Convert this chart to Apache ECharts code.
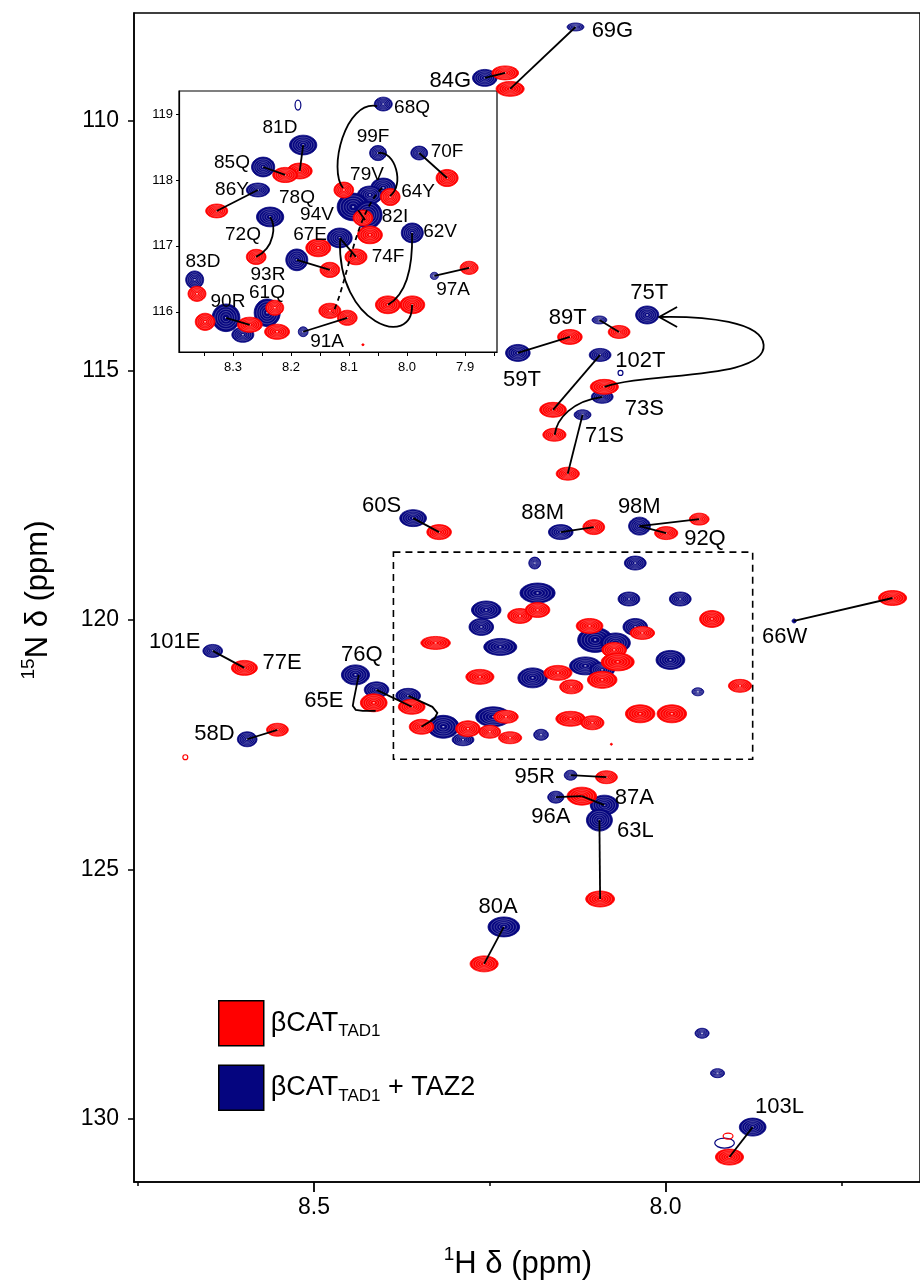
<!DOCTYPE html>
<html>
<head>
<meta charset="utf-8">
<script src="https://cdn.jsdelivr.net/npm/echarts@6/dist/echarts.min.js"></script>
<style>
  html, body { margin: 0; padding: 0; background: #fff; }
  #chart { width: 920px; height: 1285px; }
</style>
</head>
<body>
<div id="chart"></div>
<script>
// 1H-15N HSQC overlay: free βCAT TAD1 (red) and βCAT TAD1 bound to TAZ2 (blue)

// Cross peaks: [assignment, 1H ppm, 15N ppm, 1H linewidth ppm, 15N linewidth ppm]
const freeMain = [
  ['69G', 8.221, 109.36, 0.040, 0.30],
  ['84G', 8.228, 109.04, 0.038, 0.28],
  ['89T', 8.066, 114.23, 0.031, 0.26],
  ['59T', 8.136, 114.33, 0.035, 0.30],
  ['102T', 8.160, 115.79, 0.038, 0.30],
  ['73S', 8.087, 115.33, 0.040, 0.30],
  ['71S', 8.139, 117.07, 0.033, 0.26],
  ['', 8.158, 116.29, 0.033, 0.26],
  ['88M', 8.102, 118.14, 0.031, 0.30],
  ['98M', 7.952, 117.98, 0.028, 0.24],
  ['92Q', 7.999, 118.26, 0.033, 0.26],
  ['60S', 8.322, 118.24, 0.035, 0.30],
  ['77E', 8.599, 120.96, 0.037, 0.30],
  ['58D', 8.552, 122.20, 0.031, 0.26],
  ['65E', 8.415, 121.66, 0.038, 0.36],
  ['66W', 7.677, 119.56, 0.040, 0.30],
  ['95R', 8.084, 123.15, 0.031, 0.26],
  ['87A', 8.119, 123.53, 0.042, 0.36],
  ['63L', 8.093, 125.59, 0.041, 0.32],
  ['80A', 8.258, 126.89, 0.040, 0.32],
  ['103L', 7.909, 130.76, 0.040, 0.32],
  ['76Q', 8.361, 121.74, 0.038, 0.30],
  ['', 8.347, 122.14, 0.035, 0.30],
  ['', 8.207, 119.92, 0.035, 0.30],
  ['', 8.182, 119.80, 0.035, 0.30],
  ['', 7.934, 119.98, 0.035, 0.34],
  ['', 8.108, 120.12, 0.038, 0.30],
  ['', 8.327, 120.46, 0.042, 0.26],
  ['', 8.033, 120.26, 0.035, 0.26],
  ['', 8.073, 120.60, 0.035, 0.30],
  ['', 8.068, 120.84, 0.047, 0.36],
  ['', 8.153, 121.06, 0.040, 0.30],
  ['', 8.090, 121.20, 0.042, 0.34],
  ['', 8.134, 121.34, 0.033, 0.28],
  ['', 8.264, 121.14, 0.040, 0.30],
  ['', 7.894, 121.32, 0.033, 0.26],
  ['', 8.281, 122.18, 0.035, 0.32],
  ['', 8.227, 121.94, 0.035, 0.26],
  ['', 8.250, 122.24, 0.031, 0.26],
  ['', 8.221, 122.36, 0.033, 0.24],
  ['', 8.135, 121.98, 0.042, 0.30],
  ['', 8.104, 122.06, 0.033, 0.28],
  ['', 8.036, 121.88, 0.042, 0.36],
  ['', 7.991, 121.88, 0.042, 0.36],
  ['', 8.077, 122.49, 0.003, 0.04]
];
const freeMainWeak = [
  ['', 8.683, 122.75, 0.007, 0.10],
  ['', 7.911, 130.34, 0.014, 0.12]
];
const boundMain = [
  ['69G', 8.128, 108.12, 0.024, 0.16],
  ['84G', 8.257, 109.14, 0.035, 0.34],
  ['75T', 8.026, 113.89, 0.033, 0.36],
  ['89T', 8.094, 113.99, 0.021, 0.16],
  ['59T', 8.210, 114.65, 0.035, 0.34],
  ['102T', 8.093, 114.69, 0.031, 0.26],
  ['73S', 8.090, 115.53, 0.031, 0.26],
  ['71S', 8.118, 115.89, 0.024, 0.20],
  ['88M', 8.149, 118.24, 0.035, 0.30],
  ['98M', 8.037, 118.12, 0.031, 0.36],
  ['60S', 8.359, 117.96, 0.038, 0.34],
  ['101E', 8.644, 120.62, 0.028, 0.26],
  ['58D', 8.595, 122.39, 0.028, 0.30],
  ['', 8.441, 121.10, 0.040, 0.40],
  ['76Q', 8.411, 121.40, 0.035, 0.32],
  ['66W', 7.817, 120.02, 0.006, 0.08],
  ['95R', 8.135, 123.11, 0.018, 0.20],
  ['96A', 8.156, 123.55, 0.023, 0.24],
  ['87A', 8.087, 123.71, 0.040, 0.40],
  ['63L', 8.094, 124.01, 0.037, 0.44],
  ['80A', 8.230, 126.15, 0.045, 0.40],
  ['103L', 7.876, 130.16, 0.038, 0.36],
  ['', 7.948, 128.28, 0.020, 0.20],
  ['', 7.926, 129.08, 0.020, 0.18],
  ['', 8.186, 118.86, 0.017, 0.24],
  ['', 8.043, 118.86, 0.031, 0.28],
  ['', 8.182, 119.46, 0.050, 0.40],
  ['', 8.052, 119.58, 0.031, 0.28],
  ['', 7.979, 119.58, 0.031, 0.28],
  ['', 8.255, 119.80, 0.042, 0.36],
  ['', 8.262, 120.14, 0.035, 0.34],
  ['', 8.235, 120.54, 0.047, 0.34],
  ['', 8.043, 120.14, 0.035, 0.34],
  ['', 8.100, 120.40, 0.050, 0.50],
  ['', 8.071, 120.46, 0.042, 0.40],
  ['', 8.114, 120.92, 0.045, 0.36],
  ['', 8.090, 121.00, 0.035, 0.30],
  ['', 7.993, 120.80, 0.041, 0.38],
  ['', 8.189, 121.16, 0.042, 0.40],
  ['', 7.954, 121.44, 0.017, 0.16],
  ['', 8.366, 121.52, 0.035, 0.30],
  ['', 8.316, 122.14, 0.045, 0.46],
  ['', 8.288, 122.40, 0.031, 0.24],
  ['', 8.245, 121.94, 0.050, 0.40],
  ['', 8.177, 122.30, 0.021, 0.22]
];
const boundMainWeak = [
  ['', 8.064, 115.05, 0.007, 0.10],
  ['', 7.916, 130.48, 0.028, 0.20]
];

// Expanded region (inset)
const freeInset = [
  ['81D', 8.185, 118.136, 0.043, 0.24],
  ['85Q', 8.210, 118.076, 0.043, 0.23],
  ['86Y', 8.328, 117.530, 0.038, 0.21],
  ['72Q', 8.260, 116.833, 0.034, 0.23],
  ['67E', 8.153, 116.970, 0.043, 0.27],
  ['93R', 8.133, 116.636, 0.034, 0.23],
  ['83D', 8.362, 116.273, 0.031, 0.23],
  ['', 8.348, 115.848, 0.034, 0.26],
  ['90R', 8.271, 115.803, 0.043, 0.23],
  ['', 8.228, 116.061, 0.031, 0.23],
  ['', 8.224, 115.697, 0.043, 0.23],
  ['', 8.133, 116.015, 0.038, 0.23],
  ['91A', 8.103, 115.909, 0.034, 0.23],
  ['68Q', 8.109, 117.848, 0.034, 0.24],
  ['64Y', 8.029, 117.742, 0.034, 0.26],
  ['70F', 7.931, 118.030, 0.038, 0.26],
  ['82I', 8.076, 117.424, 0.034, 0.24],
  ['', 8.064, 117.167, 0.043, 0.27],
  ['74F', 8.088, 116.833, 0.038, 0.24],
  ['', 8.033, 116.106, 0.043, 0.27],
  ['', 7.991, 116.106, 0.043, 0.27],
  ['97A', 7.893, 116.667, 0.031, 0.20],
  ['', 8.076, 115.500, 0.004, 0.03]
];
const boundInset = [
  ['81D', 8.179, 118.530, 0.047, 0.30],
  ['85Q', 8.248, 118.197, 0.040, 0.30],
  ['86Y', 8.257, 117.848, 0.040, 0.21],
  ['78Q', 8.236, 117.439, 0.047, 0.30],
  ['93R', 8.190, 116.788, 0.038, 0.33],
  ['83D', 8.366, 116.485, 0.031, 0.27],
  ['90R', 8.312, 115.909, 0.048, 0.42],
  ['', 8.283, 115.652, 0.038, 0.23],
  ['61Q', 8.241, 115.985, 0.045, 0.42],
  ['91A', 8.179, 115.697, 0.017, 0.15],
  ['68Q', 8.041, 119.152, 0.031, 0.21],
  ['99F', 8.050, 118.409, 0.029, 0.23],
  ['70F', 7.979, 118.409, 0.029, 0.21],
  ['', 8.041, 117.879, 0.043, 0.30],
  ['', 8.064, 117.773, 0.043, 0.27],
  ['', 8.093, 117.591, 0.055, 0.42],
  ['', 8.067, 117.470, 0.048, 0.42],
  ['94V', 8.116, 117.121, 0.043, 0.30],
  ['62V', 7.991, 117.197, 0.038, 0.30],
  ['97A', 7.953, 116.545, 0.014, 0.11]
];
const boundInsetWeak = [
  ['', 8.188, 119.136, 0.010, 0.15]
];

// Straight connectors: [bound assignment, free assignment]
const mainLinks = [
  ['69G', '69G'], ['84G', '84G'], ['89T', '89T'], ['59T', '59T'], ['102T', '102T'],
  ['71S', '71S'], ['88M', '88M'], ['98M', '98M'], ['98M', '92Q'], ['60S', '60S'],
  ['101E', '77E'], ['58D', '58D'], ['76Q', '76Q'], ['66W', '66W'], ['95R', '95R'],
  ['96A', '87A'], ['87A', '87A'], ['63L', '63L'], ['80A', '80A'], ['103L', '103L']
];
const insetLinks = [
  ['81D', '81D'], ['85Q', '85Q'], ['86Y', '86Y'], ['93R', '93R'], ['90R', '90R'],
  ['91A', '91A'], ['70F', '70F'], ['97A', '97A'], ['94V', '74F']
];

// Curved connectors as cubic Bezier chains of [1H, 15N] points
const mainCurves = [
  [[8.0868, 115.33], [8.0260, 115.03], [7.8562, 115.19], [7.8604, 114.49],
   [7.8632, 114.03], [7.9411, 113.91], [8.0090, 113.93]],
  [[8.1576, 116.29], [8.1547, 115.96], [8.1321, 115.61], [8.0896, 115.53]]
];
const mainPolylines = [
  [[8.4363, 121.10], [8.4434, 121.60], [8.4448, 121.72], [8.4406, 121.80], [8.4307, 121.82], [8.4123, 121.82]],
  [[8.3656, 121.52], [8.3316, 121.74], [8.3245, 121.86], [8.3288, 121.98], [8.3472, 122.14]],
  [[7.9835, 113.73], [8.0090, 113.93], [7.9835, 114.13]]
];
const insetCurves = [
  [[8.0517, 119.121], [8.1069, 119.212], [8.1362, 118.152], [8.1103, 117.879]],
  [[8.0500, 118.409], [8.0207, 118.455], [8.0035, 117.924], [8.0293, 117.758]],
  [[8.2362, 117.439], [8.2259, 117.318], [8.2276, 116.970], [8.2603, 116.833]],
  [[7.9914, 117.197], [7.9897, 116.636], [8.0035, 116.258], [8.0328, 116.106]],
  [[8.1155, 117.091], [8.1207, 115.803], [7.9897, 115.424], [7.9914, 116.106]]
];
const insetDashedCurves = [
  [[8.0431, 117.879], [8.0897, 117.470], [8.1017, 116.485], [8.1276, 115.985]]
];
const insetPolylines = [
  [[8.0845, 117.545], [8.0724, 117.394]]
];

// Assignment labels: [text, 1H, 15N]
const mainLabels = [
  ['69G', 8.0755, 108.20], ['84G', 8.3062, 109.20], ['75T', 8.0232, 113.45],
  ['89T', 8.1392, 113.95], ['59T', 8.2043, 115.19], ['102T', 8.0359, 114.81],
  ['73S', 8.0302, 115.77], ['71S', 8.0868, 116.31], ['88M', 8.1746, 117.86],
  ['98M', 8.0373, 117.74], ['92Q', 7.9439, 118.38], ['60S', 8.4038, 117.72],
  ['101E', 8.6981, 120.44], ['77E', 8.5453, 120.86], ['76Q', 8.4321, 120.70],
  ['65E', 8.4859, 121.62], ['58D', 8.6415, 122.28], ['66W', 7.8307, 120.34],
  ['95R', 8.1859, 123.15], ['87A', 8.0444, 123.57], ['96A', 8.1632, 123.95],
  ['63L', 8.0430, 124.23], ['80A', 8.2382, 125.75], ['103L', 7.8378, 129.76]
];
const insetLabels = [
  ['81D', 8.2190, 118.788], ['85Q', 8.3017, 118.258], ['86Y', 8.3017, 117.848],
  ['78Q', 8.1897, 117.727], ['94V', 8.1552, 117.470], ['72Q', 8.2828, 117.167],
  ['67E', 8.1672, 117.167], ['83D', 8.3517, 116.758], ['93R', 8.2397, 116.561],
  ['61Q', 8.2414, 116.288], ['90R', 8.3086, 116.152], ['91A', 8.1379, 115.545],
  ['68Q', 7.9914, 119.091], ['99F', 8.0586, 118.652], ['70F', 7.9310, 118.424],
  ['79V', 8.0690, 118.076], ['64Y', 7.9810, 117.818], ['82I', 8.0207, 117.439],
  ['62V', 7.9431, 117.212], ['74F', 8.0328, 116.833], ['97A', 7.9207, 116.333]
];

// Region shown in the inset (dashed box): [1H, 15N] corners
const expandedRegion = [[8.387, 118.64], [7.876, 122.79]];

// Axis ticks
const mainHTicks = [8.5, 8.0];
const mainHMinorTicks = [8.75, 8.25, 7.75];
const mainNTicks = [110, 115, 120, 125, 130];
const insetHTicks = [8.3, 8.2, 8.1, 8.0, 7.9];
const insetHMinorTicks = [8.35, 8.3, 8.25, 8.2, 8.15, 8.1, 8.05, 8.0, 7.95, 7.9, 7.85];
const insetNTicks = [116, 117, 118, 119];

const FREE = 'βCAT TAD1';
const BOUND = 'βCAT TAD1 + TAZ2';
const RED = '#ff0000';
const BLUE = '#05057f';
const FONT = "'Liberation Sans', Arial, Helvetica, sans-serif";

function lookup(rows) {
  const m = {};
  rows.forEach(r => { if (r[0]) m[r[0]] = r; });
  return m;
}

function peakSeries(name, rows, color, xi, yi, open, clip, z) {
  return {
    type: 'custom', name, xAxisIndex: xi, yAxisIndex: yi, clip, z, silent: true,
    itemStyle: { color },
    data: rows.map(r => [r[1], r[2], r[3], r[4]]),
    encode: { x: 0, y: 1 },
    renderItem: (params, api) => {
      const c = api.coord([api.value(0), api.value(1)]);
      const s = api.size([api.value(2), api.value(3)], [api.value(0), api.value(1)]);
      const rx = Math.max(s[0] / 2, 0.8), ry = Math.max(s[1] / 2, 0.8);
      if (open) {
        return { type: 'ellipse', shape: { cx: c[0], cy: c[1], rx, ry },
          style: { fill: 'none', stroke: color, lineWidth: 1.2 } };
      }
      const children = [{ type: 'ellipse', shape: { cx: c[0], cy: c[1], rx, ry },
        style: { fill: color, stroke: color, lineWidth: 0.8 } }];
      if (rx > 3 && ry > 3) {
        [0.8, 0.62, 0.45, 0.28].forEach(f => {
          children.push({ type: 'ellipse', shape: { cx: c[0], cy: c[1], rx: rx * f, ry: ry * f },
            style: { fill: 'none', stroke: 'rgba(255,255,255,0.42)', lineWidth: 0.6 } });
        });
        children.push({ type: 'rect', shape: { x: c[0] - 1, y: c[1] - 0.6, width: 2, height: 1.2 },
          style: { fill: 'rgba(255,255,255,0.85)' } });
      }
      return { type: 'group', children };
    }
  };
}

function linkSeries(links, bound, free, xi, yi, clip) {
  const B = lookup(bound), F = lookup(free);
  return {
    type: 'custom', xAxisIndex: xi, yAxisIndex: yi, clip, z: 5, silent: true,
    data: links.map(([b, f]) => [B[b][1], B[b][2], F[f][1], F[f][2]]),
    encode: { x: [0, 2], y: [1, 3] },
    renderItem: (params, api) => {
      const a = api.coord([api.value(0), api.value(1)]);
      const b = api.coord([api.value(2), api.value(3)]);
      return { type: 'line', shape: { x1: a[0], y1: a[1], x2: b[0], y2: b[1] },
        style: { stroke: '#000', lineWidth: 1.8 } };
    }
  };
}

function pathSeries(paths, smooth, dashed, xi, yi, clip) {
  return {
    type: 'custom', xAxisIndex: xi, yAxisIndex: yi, clip, z: 5, silent: true,
    data: paths.map((p, i) => [p[0][0], p[0][1], i]),
    encode: { x: 0, y: 1 },
    renderItem: (params, api) => {
      const pts = paths[api.value(2)].map(p => api.coord(p));
      let d = 'M' + pts[0][0] + ' ' + pts[0][1];
      if (smooth) {
        for (let k = 1; k + 2 < pts.length; k += 3) {
          d += ' C' + pts[k].join(' ') + ' ' + pts[k + 1].join(' ') + ' ' + pts[k + 2].join(' ');
        }
      } else {
        for (let k = 1; k < pts.length; k++) d += ' L' + pts[k].join(' ');
      }
      return { type: 'path', shape: { pathData: d },
        style: { fill: 'none', stroke: '#000', lineWidth: 1.8, lineDash: dashed ? [5, 4] : null } };
    }
  };
}

function labelSeries(labels, size, xi, yi) {
  return {
    type: 'custom', xAxisIndex: xi, yAxisIndex: yi, clip: false, z: 6, silent: true,
    data: labels.map((l, i) => [l[1], l[2], i]),
    encode: { x: 0, y: 1 },
    renderItem: (params, api) => {
      const c = api.coord([api.value(0), api.value(1)]);
      return { type: 'text', x: c[0], y: c[1],
        style: { text: labels[api.value(2)][0], fill: '#000', font: size + 'px ' + FONT,
          align: 'center', verticalAlign: 'middle' } };
    }
  };
}

const regionSeries = {
  type: 'custom', xAxisIndex: 0, yAxisIndex: 0, z: 4, silent: true,
  data: [[expandedRegion[0][0], expandedRegion[0][1], expandedRegion[1][0], expandedRegion[1][1]]],
  encode: { x: [0, 2], y: [1, 3] },
  renderItem: (params, api) => {
    const a = api.coord([api.value(0), api.value(1)]);
    const b = api.coord([api.value(2), api.value(3)]);
    return { type: 'rect',
      shape: { x: Math.min(a[0], b[0]), y: Math.min(a[1], b[1]),
        width: Math.abs(b[0] - a[0]), height: Math.abs(b[1] - a[1]) },
      style: { fill: 'none', stroke: '#000', lineWidth: 1.6, lineDash: [7, 5] } };
  }
};

const tickLabel = v => v.toFixed(1);
const axisCommon = { show: true, axisLine: { show: true, lineStyle: { color: '#000', width: 1.5 } } };

const option = {
  animation: false,
  backgroundColor: '#fff',
  grid: [
    { left: 134, top: 13, width: 790, height: 1169, show: true, borderColor: '#000', borderWidth: 1.5, backgroundColor: '#fff' },
    { left: 179, top: 91, width: 318, height: 261, show: true, borderColor: '#000', borderWidth: 1.2, backgroundColor: '#fff' }
  ],
  xAxis: [
    { ...axisCommon, type: 'value', gridIndex: 0, min: 7.638, max: 8.756, inverse: true, position: 'bottom',
      splitLine: { show: false },
      axisTick: { show: true, inside: false, length: 10, customValues: mainHTicks, lineStyle: { color: '#000', width: 1.8 } },
      axisLabel: { customValues: mainHTicks, formatter: tickLabel, fontSize: 23, fontFamily: FONT, color: '#000', margin: 14 } },
    { type: 'value', gridIndex: 0, min: 7.638, max: 8.756, inverse: true, position: 'bottom',
      splitLine: { show: false }, axisLine: { show: false },
      axisTick: { show: true, inside: false, length: 4, customValues: mainHMinorTicks, lineStyle: { color: '#000', width: 1.5 } },
      axisLabel: { show: false } },
    { ...axisCommon, type: 'value', gridIndex: 1, min: 7.845, max: 8.393, inverse: true, position: 'bottom',
      axisLine: { show: true, lineStyle: { color: '#000', width: 1.2 } },
      splitLine: { show: false },
      axisTick: { show: true, inside: false, length: 4, customValues: insetHMinorTicks, lineStyle: { color: '#000', width: 1 } },
      axisLabel: { customValues: insetHTicks, formatter: tickLabel, fontSize: 13, fontFamily: FONT, color: '#000', margin: 9 } }
  ],
  yAxis: [
    { ...axisCommon, type: 'value', gridIndex: 0, min: 107.84, max: 131.26, inverse: true, position: 'left',
      splitLine: { show: false },
      axisTick: { show: true, inside: false, length: 6, customValues: mainNTicks, lineStyle: { color: '#000', width: 1.5 } },
      axisLabel: { customValues: mainNTicks, fontSize: 23, fontFamily: FONT, color: '#000', margin: 15 } },
    { ...axisCommon, type: 'value', gridIndex: 1, min: 115.39, max: 119.35, position: 'left',
      axisLine: { show: true, lineStyle: { color: '#000', width: 1.2 } },
      splitLine: { show: false },
      axisTick: { show: true, inside: false, length: 3, customValues: insetNTicks, lineStyle: { color: '#000', width: 1 } },
      axisLabel: { customValues: insetNTicks, fontSize: 13, fontFamily: FONT, color: '#000', margin: 6 } }
  ],
  legend: {
    orient: 'vertical', left: 213, top: 995, itemWidth: 45, itemHeight: 45, itemGap: 18,
    selectedMode: false,
    data: [
      { name: FREE, icon: 'rect', itemStyle: { color: RED, borderColor: '#000', borderWidth: 1.5 } },
      { name: BOUND, icon: 'rect', itemStyle: { color: BLUE, borderColor: '#000', borderWidth: 1.5 } }
    ],
    formatter: n => n === FREE ? '{m|βCAT}{s|TAD1}' : '{m|βCAT}{s|TAD1}{m| + TAZ2}',
    textStyle: {
      padding: [0, 0, 0, 2],
      rich: {
        m: { fontSize: 27, fontFamily: FONT, color: '#000', lineHeight: 34 },
        s: { fontSize: 17, fontFamily: FONT, color: '#000', lineHeight: 17, verticalAlign: 'bottom' }
      }
    }
  },
  graphic: [
    { type: 'text', x: 518, y: 1264, z: 10, silent: true,
      style: { text: '{s|1}{m|H δ (ppm)}', align: 'center', verticalAlign: 'middle',
        rich: { m: { fontSize: 31, fontFamily: FONT, fill: '#000', lineHeight: 38 },
                s: { fontSize: 19, fontFamily: FONT, fill: '#000', lineHeight: 19, verticalAlign: 'top' } } } },
    { type: 'text', x: 38, y: 600, rotation: Math.PI / 2, z: 10, silent: true,
      style: { text: '{s|15}{m|N δ (ppm)}', align: 'center', verticalAlign: 'middle',
        rich: { m: { fontSize: 31, fontFamily: FONT, fill: '#000', lineHeight: 38 },
                s: { fontSize: 19, fontFamily: FONT, fill: '#000', lineHeight: 19, verticalAlign: 'top' } } } }
  ],
  series: [
    regionSeries,
    peakSeries(BOUND, boundMain, BLUE, 0, 0, false, false, 2),
    peakSeries(BOUND, boundMainWeak, BLUE, 0, 0, true, false, 2),
    peakSeries(FREE, freeMain, RED, 0, 0, false, false, 3),
    peakSeries(FREE, freeMainWeak, RED, 0, 0, true, false, 3),
    linkSeries(mainLinks, boundMain, freeMain, 0, 0, false),
    pathSeries(mainCurves, true, false, 0, 0, false),
    pathSeries(mainPolylines, false, false, 0, 0, false),
    labelSeries(mainLabels, 22, 0, 0),

    peakSeries(BOUND, boundInset, BLUE, 2, 1, false, true, 12),
    peakSeries(BOUND, boundInsetWeak, BLUE, 2, 1, true, true, 12),
    peakSeries(FREE, freeInset, RED, 2, 1, false, true, 13),
    Object.assign(linkSeries(insetLinks, boundInset, freeInset, 2, 1, true), { z: 15 }),
    Object.assign(pathSeries(insetCurves, true, false, 2, 1, true), { z: 15 }),
    Object.assign(pathSeries(insetDashedCurves, true, true, 2, 1, true), { z: 15 }),
    Object.assign(pathSeries(insetPolylines, false, false, 2, 1, true), { z: 15 }),
    Object.assign(labelSeries(insetLabels, 19, 2, 1), { z: 16 })
  ]
};

const chart = echarts.init(document.getElementById('chart'), null, { renderer: 'canvas' });
chart.setOption(option);
</script>
</body>
</html>
